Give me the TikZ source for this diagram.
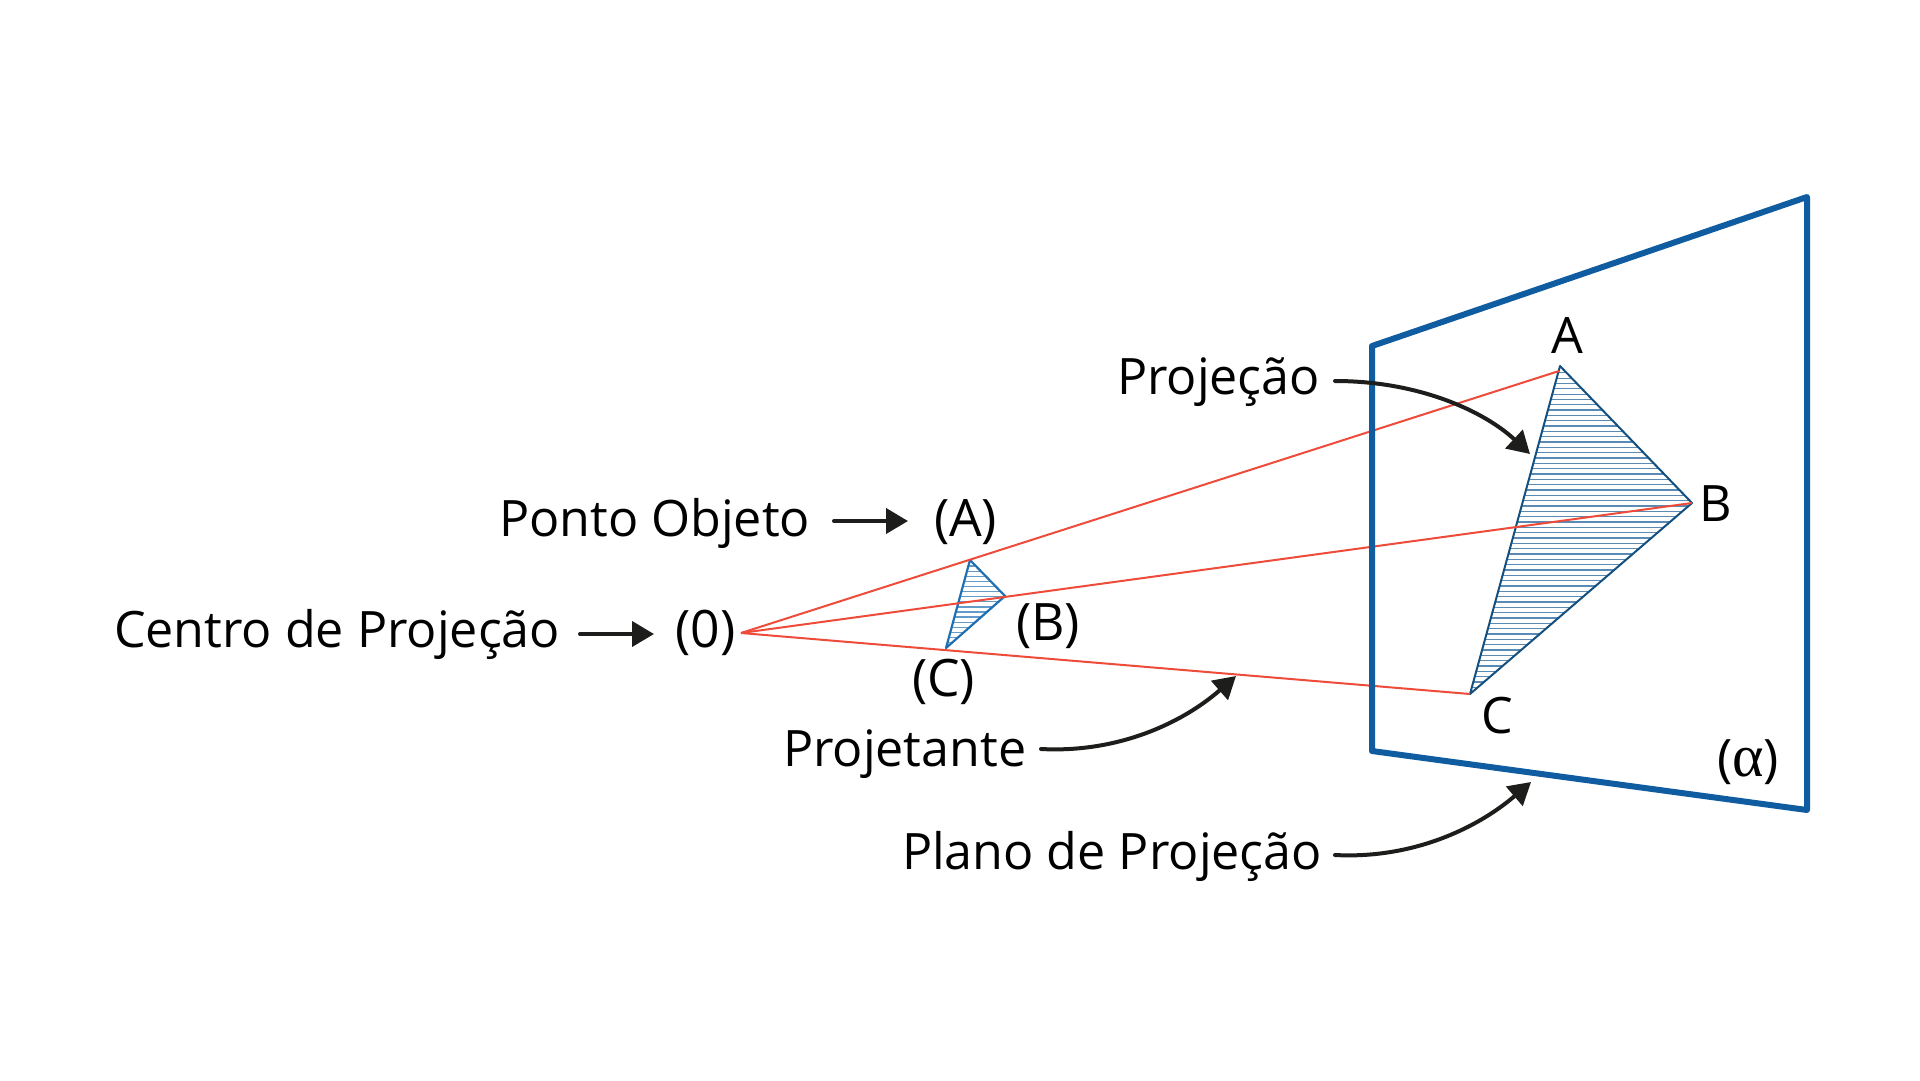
\documentclass[tikz,border=0pt]{standalone}
\usepackage{fontspec}
\setmainfont{Open Sans}
\newfontfamily\alphafont{Liberation Serif}
\usetikzlibrary{arrows.meta}
\definecolor{planeblue}{HTML}{0F5CA0}
\definecolor{darkblue}{HTML}{14507F}
\definecolor{hatchblue}{HTML}{1B5E96}
\definecolor{midblue}{HTML}{1F6FB2}
\definecolor{rayred}{HTML}{EF4B3A}
\definecolor{ink}{HTML}{1D1D1B}
\tikzset{
  lab/.style={anchor=base west,inner sep=0pt,outer sep=0pt,font=\fontsize{50.2}{50.2}\selectfont,text=black},
  plab/.style={lab,font=\fontsize{51.6}{51.6}\selectfont},
  ray/.style={draw=rayred,line width=2pt},
  arr/.style={draw=ink,line width=4pt,line cap=round,-{Triangle[length=22pt,width=25pt]}},
  plane/.style={draw=planeblue,line width=6pt,line join=round},
  bigtri/.style={draw=darkblue,line width=2pt,line join=round},
  smalltri/.style={draw=midblue,line width=2.2pt,line join=round},
}
\begin{document}
\begin{tikzpicture}[x=1pt,y=-1pt]
\useasboundingbox (0,0) rectangle (1920,1080);
\fill[white] (0,0) rectangle (1920,1080);
\coordinate (O) at (741,633);
\coordinate (A) at (1560,366);
\coordinate (B) at (1692,503);
\coordinate (C) at (1470,694);
\coordinate (a) at (970,560);
\coordinate (b) at (1005,596);
\coordinate (c) at (946,648);
\coordinate (P1) at (1372,346);
\coordinate (P2) at (1807,197);
\coordinate (P3) at (1807,810);
\coordinate (P4) at (1372,751);
\coordinate (Aray) at (1559,371);
\coordinate (tipProj) at (1530,454);
\coordinate (tipRay) at (1236,676);
\coordinate (tipPlane) at (1531,782);
% hatching
\begin{scope}
\clip (A) -- (B) -- (C) -- cycle;
\foreach \i in {0,...,62} {
  \draw[hatchblue!72,line width=1.3pt] (1450,{367.5+\i*5.33}) -- (1710,{367.5+\i*5.33});
}
\end{scope}
\begin{scope}
\clip (a) -- (b) -- (c) -- cycle;
\foreach \i in {0,...,18} {
  \draw[midblue!70,line width=1.3pt] (930,{561+\i*5.1}) -- (1020,{561+\i*5.1});
}
\end{scope}
\draw[bigtri] (A) -- (B) -- (C) -- cycle;
\draw[smalltri] (a) -- (b) -- (c) -- cycle;
\draw[ray] (O) -- (Aray);
\draw[ray] (O) -- (B);
\draw[ray] (O) -- (C);
\draw[plane] (P1) -- (P2) -- (P3) -- (P4) -- cycle;
% labels
\node[lab] (centro) at (114,647) {Centro de Projeção};
\node[plab] (zero) at (675.5,647) {(0)};
\node[lab] (ponto) at (499,536.5) {Ponto Objeto};
\node[plab] (la) at (934,536) {(A)};
\node[plab] (lb) at (1016,640) {(B)};
\node[plab] (lc) at (912,696) {(C)};
\node[lab] (proj) at (1117,394) {Projeção};
\node[lab] (projt) at (783,766) {Projetante};
\node[lab] (plano) at (902,869) {Plano de Projeção};
\node[lab] (uA) at (1551,353) {A};
\node[lab] (uB) at (1699,521) {B};
\node[lab] (uC) at (1481,733) {C};
\node[plab] (alpha) at (1717,776) {({\alphafont\fontsize{60}{60}\selectfont α})};
% arrows
\coordinate (s1) at (580,634);
\coordinate (e1) at (654,634);
\coordinate (s2) at (834,521);
\coordinate (e2) at (908,521);
\coordinate (s3) at (1335,381);
\coordinate (s4) at (1041,749);
\coordinate (s5) at (1335,855);
\draw[arr] (s1) -- (e1);
\draw[arr] (s2) -- (e2);
\draw[arr] (s3) .. controls (1420,381) and (1485,412) .. (tipProj);
\draw[arr] (s4) .. controls (1115,753) and (1180,725) .. (tipRay);
\draw[arr] (s5) .. controls (1410,859) and (1475,830) .. (tipPlane);
\end{tikzpicture}
\end{document}
